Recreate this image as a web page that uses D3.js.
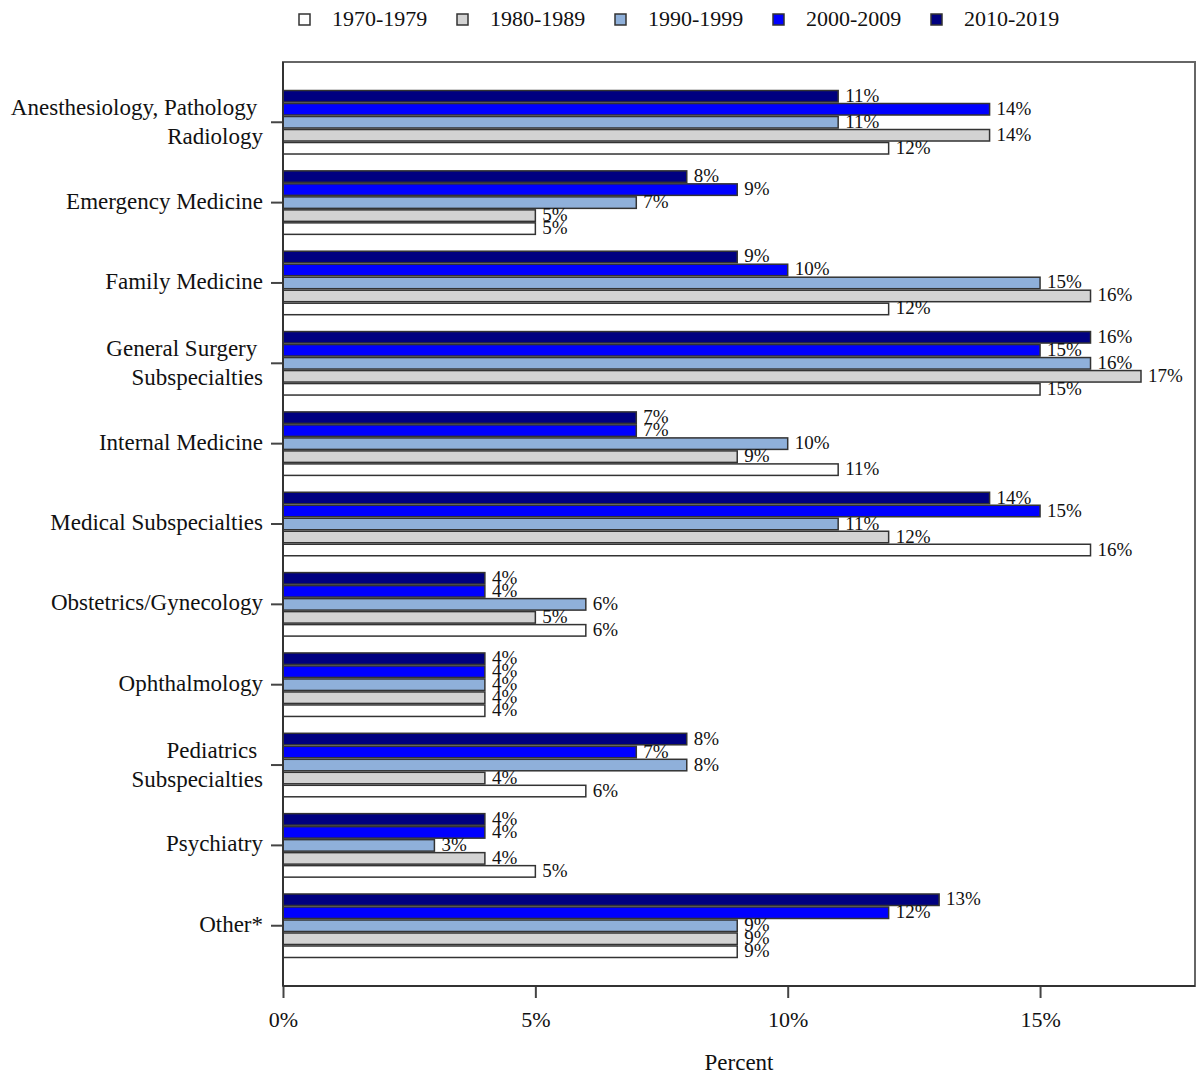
<!DOCTYPE html>
<html lang="en">
  <head>
    <meta charset="utf-8">
    <title>Specialty by decade</title>
    <script src="https://d3js.org/d3.v7.min.js"></script>
    <style>
      body { margin: 0; background: #fff; }
      svg text { font-family: "Liberation Serif", "Times New Roman", serif; fill: #111; }
      .cat { font-size: 23px; white-space: pre; }
      .val { font-size: 19px; }
      .leg { font-size: 22px; }
    </style>
  </head>
  <body>
    <svg id="plotarea" width="1197" height="1078"></svg>
    <script>
      // Categories (top to bottom), "\n" splits a label onto two lines
      var categories = [
        "Anesthesiology, Pathology \nRadiology",
        "Emergency Medicine",
        "Family Medicine",
        "General Surgery \nSubspecialties",
        "Internal Medicine",
        "Medical Subspecialties",
        "Obstetrics/Gynecology",
        "Ophthalmology",
        "Pediatrics \nSubspecialties",
        "Psychiatry",
        "Other*"
      ];

      // Percent of graduates per decade
      var s1970 = [12, 5, 12, 15, 11, 16, 6, 4, 6, 5, 9];
      var s1980 = [14, 5, 16, 17, 9, 12, 5, 4, 4, 4, 9];
      var s1990 = [11, 7, 15, 16, 10, 11, 6, 4, 8, 3, 9];
      var s2000 = [14, 9, 10, 15, 7, 15, 4, 4, 7, 4, 12];
      var s2010 = [11, 8, 9, 16, 7, 14, 4, 4, 8, 4, 13];

      var seriesNames = ["1970-1979", "1980-1989", "1990-1999", "2000-2009", "2010-2019"];
      var seriesValues = [s1970, s1980, s1990, s2000, s2010];
      var seriesColors = ["#ffffff", "#d3d3d3", "#8fb0da", "#0000ff", "#000080"];

      var xTicks = [0, 5, 10, 15];
      var xMax = 18.07;

      // plot box (window.top is taken, so prefixed names)
      var plotLeft = 283, plotRight = 1195, plotTop = 62, plotBottom = 986;
      var svg = d3.select("#plotarea");

      var x = d3.scaleLinear().domain([0, xMax]).range([plotLeft, plotRight]);
      var y = d3.scaleBand().domain(categories).range([plotTop, plotBottom]).paddingInner(0).paddingOuter(0.25);
      // bars inside a category: newest decade on top
      var inner = d3.scaleBand().domain(seriesNames.slice().reverse()).range([-32.5, 32.5]);

      // frame
      svg.append("rect")
        .attr("x", plotLeft).attr("y", plotTop)
        .attr("width", plotRight - plotLeft).attr("height", plotBottom - plotTop)
        .attr("fill", "none").attr("stroke", "#666").attr("stroke-width", 2);

      // flat table built from the arrays
      var rows = [];
      categories.forEach(function(c, i) {
        seriesNames.forEach(function(s, j) {
          rows.push({cat: c, series: s, value: seriesValues[j][i], color: seriesColors[j]});
        });
      });

      var barY = function(d) { return y(d.cat) + y.bandwidth() / 2 + inner(d.series); };

      svg.append("g").selectAll("rect")
        .data(rows)
        .enter()
        .append("rect")
        .attr("x", x(0))
        .attr("y", function(d) { return barY(d) + 0.75; })
        .attr("width", function(d) { return x(d.value) - x(0); })
        .attr("height", inner.bandwidth() - 1.5)
        .attr("fill", function(d) { return d.color; })
        .attr("stroke", "#333")
        .attr("stroke-width", 1.5);

      svg.append("g").selectAll("text")
        .data(rows)
        .enter()
        .append("text")
        .attr("class", "val")
        .attr("x", function(d) { return x(d.value) + 7; })
        .attr("y", function(d) { return barY(d) + 12; })
        .text(function(d) { return d.value + "%"; });

      // y axis
      var yAxis = svg.append("g").attr("transform", "translate(" + plotLeft + ",0)")
        .call(d3.axisLeft(y).tickSize(12).tickFormat(""));
      yAxis.select(".domain").remove();
      yAxis.selectAll(".tick line").attr("stroke", "#444").attr("stroke-width", 2);

      svg.append("g").selectAll("text")
        .data(categories)
        .enter()
        .append("text")
        .attr("class", "cat")
        .attr("text-anchor", "end")
        .attr("x", plotLeft - 20)
        .attr("y", function(d) { return y(d) + y.bandwidth() / 2; })
        .each(function(d) {
          var lines = d.split("\n");
          var t = d3.select(this);
          lines.forEach(function(line, k) {
            var dy = lines.length == 1 ? 6 : -7;
            t.append("tspan")
              .attr("x", plotLeft - 20)
              .attr("dy", k == 0 ? dy : 29)
              .text(line);
          });
        });

      // x axis
      var xAxis = svg.append("g").attr("transform", "translate(0," + plotBottom + ")")
        .call(d3.axisBottom(x).tickValues(xTicks).tickSize(12).tickPadding(0).tickFormat(function(d) { return d + "%"; }));
      xAxis.select(".domain").remove();
      xAxis.selectAll(".tick line").attr("stroke", "#444").attr("stroke-width", 2);
      xAxis.selectAll(".tick text")
        .attr("dy", null).attr("y", 41)
        .attr("fill", "#111")
        .style("font-family", "'Liberation Serif', 'Times New Roman', serif")
        .style("font-size", "22px");

      svg.append("line").attr("x1", plotLeft).attr("x2", plotLeft).attr("y1", plotTop).attr("y2", plotBottom)
        .attr("stroke", "#333").attr("stroke-width", 2);
      svg.append("line").attr("x1", plotLeft).attr("x2", plotRight).attr("y1", plotBottom).attr("y2", plotBottom)
        .attr("stroke", "#333").attr("stroke-width", 2);

      svg.append("text")
        .attr("text-anchor", "middle")
        .attr("x", (plotLeft + plotRight) / 2)
        .attr("y", 1070)
        .style("font-size", "23px")
        .text("Percent");

      // legend
      var legend = svg.append("g").selectAll("g")
        .data(seriesNames)
        .enter()
        .append("g")
        .attr("transform", function(d, i) { return "translate(" + (299 + i * 158) + ",14)"; });
      legend.append("rect")
        .attr("width", 11).attr("height", 11)
        .attr("fill", function(d, i) { return seriesColors[i]; })
        .attr("stroke", "#333").attr("stroke-width", 1.5);
      legend.append("text")
        .attr("class", "leg")
        .attr("x", 33)
        .attr("y", 12)
        .text(function(d) { return d; });
    </script>
  </body>
</html>
